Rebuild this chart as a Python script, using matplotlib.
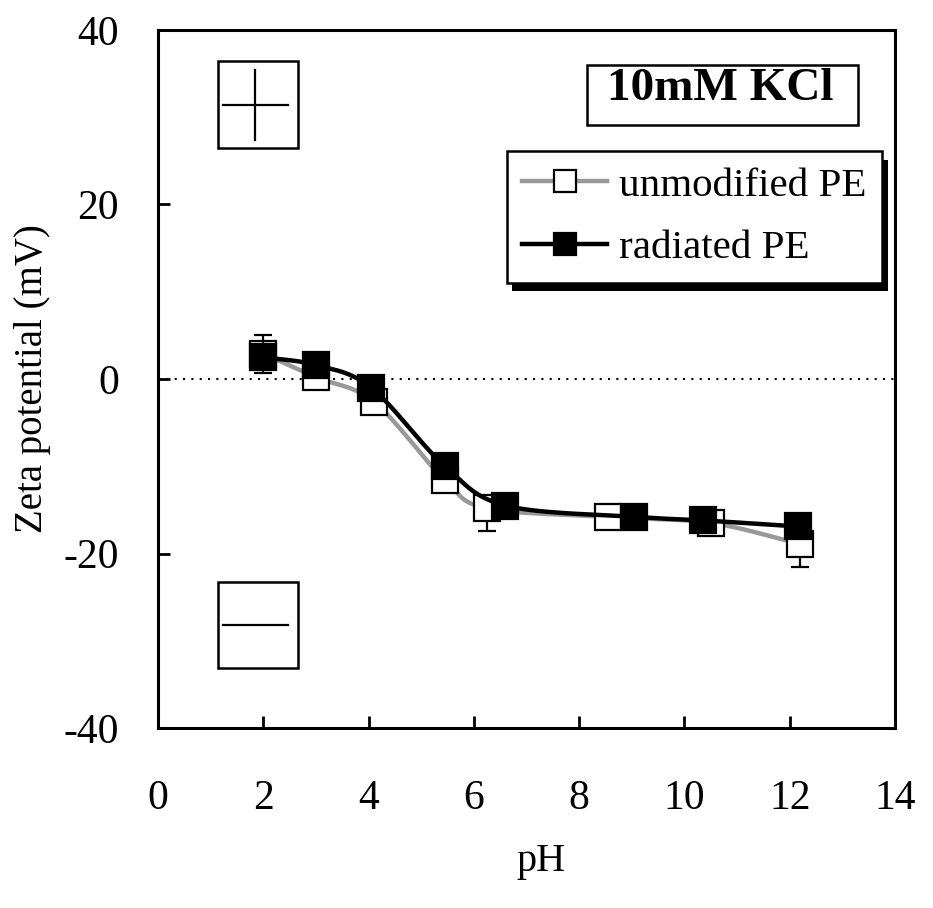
import numpy as np
import matplotlib
matplotlib.use('Agg')
import matplotlib.pyplot as plt
from matplotlib.patches import Rectangle

plt.rcParams['font.family'] = ['Liberation Serif', 'DejaVu Serif']
plt.rcParams['axes.unicode_minus'] = False

# data
ph_unmod = [2.0, 3.0, 4.1, 5.45, 6.25, 8.55, 10.5, 12.2]
zeta_unmod = [2.9, 0.2, -2.6, -11.6, -14.8, -15.8, -16.5, -18.9]
err_unmod_low = [2.2, 0.8, 0.8, 1.0, 2.6, 0.8, 0.8, 2.7]

ph_rad = [2.0, 3.0, 4.05, 5.45, 6.6, 9.05, 10.35, 12.15]
zeta_rad = [2.5, 1.6, -1.0, -10.0, -14.5, -15.8, -16.2, -16.9]
err_rad_up = [2.55, 0.8, 0.8, 0.8, 0.8, 0.8, 0.8, 0.8]

xticks = [0, 2, 4, 6, 8, 10, 12, 14]
yticks = [-40, -20, 0, 20, 40]


def smooth(x, y, n=30):
    # catmull-rom curve through the points (like the "smoothed line" option)
    x = np.asarray(x, float)
    y = np.asarray(y, float)
    px = np.concatenate([[2 * x[0] - x[1]], x, [2 * x[-1] - x[-2]]])
    py = np.concatenate([[2 * y[0] - y[1]], y, [2 * y[-1] - y[-2]]])
    t = np.linspace(0, 1, n)
    xs, ys = [], []
    for i in range(1, len(px) - 2):
        for p, out in ((px, xs), (py, ys)):
            p0, p1, p2, p3 = p[i - 1], p[i], p[i + 1], p[i + 2]
            out.append(0.5 * ((2 * p1) + (-p0 + p2) * t
                              + (2 * p0 - 5 * p1 + 4 * p2 - p3) * t ** 2
                              + (-p0 + 3 * p1 - 3 * p2 + p3) * t ** 3))
    return np.concatenate(xs), np.concatenate(ys)


fig = plt.figure(figsize=(9.33, 9.08), dpi=100)
ax = fig.add_axes([0.1693, 0.1982, 0.7900, 0.7688])

ax.axhline(0, color='black', lw=1.5, dashes=(1, 3), zorder=1)

gray = '#999999'
sx, sy = smooth(ph_unmod, zeta_unmod)
ax.plot(sx, sy, color=gray, lw=3.2, zorder=2)
ax.errorbar(ph_unmod, zeta_unmod, yerr=[err_unmod_low, [0] * len(ph_unmod)],
            fmt='none', ecolor='black', elinewidth=1.6, capsize=6.5,
            capthick=1.6, zorder=3)
ax.plot(ph_unmod, zeta_unmod, 's', color='none', mfc='white', mec='black',
        ms=19, mew=1.6, zorder=4)

sx, sy = smooth(ph_rad, zeta_rad)
ax.plot(sx, sy, color='black', lw=3.2, zorder=5)
ax.errorbar(ph_rad, zeta_rad, yerr=[[0] * len(ph_rad), err_rad_up],
            fmt='none', ecolor='black', elinewidth=1.6, capsize=6.5,
            capthick=1.6, zorder=6)
ax.plot(ph_rad, zeta_rad, 's', color='none', mfc='black', mec='black',
        ms=19, mew=1.6, zorder=7)

ax.set_xlim(0, 14)
ax.set_ylim(-40, 40)
ax.set_xticks(xticks)
ax.set_yticks(yticks)
ax.tick_params(direction='in', length=8.5, width=2, labelsize=30)
ax.tick_params(axis='x', pad=37)
ax.tick_params(axis='y', pad=28)
for s in ax.spines.values():
    s.set_linewidth(2.2)

ax.set_xlabel('pH', fontsize=29)
ax.set_ylabel('Zeta potential (mV)', fontsize=28)
ax.xaxis.set_label_coords(0.52, -0.165)
ax.yaxis.set_label_coords(-0.145, 0.5)

# legend (lines drawn with marker in the middle)
h1, = ax.plot([], [], color=gray, lw=3.2, marker='s', mfc='white', mec='black',
              ms=16, mew=1.6)
h2, = ax.plot([], [], color='black', lw=3.2, marker='s', mfc='black', mec='black',
              ms=16, mew=1.6)
leg = ax.legend([h1, h2], ['unmodified PE', 'radiated PE'], loc='upper right',
                bbox_to_anchor=(0.982, 0.826), fontsize=29.5, fancybox=False,
                edgecolor='black', framealpha=1, handlelength=2.07,
                handletextpad=0.29, borderpad=0.38, labelspacing=0.6,
                borderaxespad=0)
leg.get_frame().set_linewidth(1.8)
leg.set_zorder(20)

fig.canvas.draw()
bb = leg.get_window_extent().transformed(ax.transAxes.inverted())
ax.add_patch(Rectangle((bb.x0 + 0.008, bb.y0 - 0.012), bb.width, bb.height,
                       transform=ax.transAxes, facecolor='black',
                       edgecolor='none', zorder=19))

# title box
ax.add_patch(Rectangle((0.582, 0.864), 0.368, 0.086, transform=ax.transAxes,
                       fc='white', ec='black', lw=1.8, zorder=20))
ax.text(0.7626, 0.8997, '10mM KCl', transform=ax.transAxes, fontsize=34,
        fontweight='bold', ha='center', va='baseline', zorder=21)

# plus / minus boxes
for (y0, y1, sign) in [(0.831, 0.955, '+'), (0.086, 0.209, '-')]:
    ax.add_patch(Rectangle((0.0814, y0), 0.1085, y1 - y0, transform=ax.transAxes,
                           fill=False, ec='black', lw=1.8, zorder=10))
    yc = (y0 + y1) / 2
    ax.plot([0.0882, 0.1764], [yc, yc], color='black', lw=1.6,
            transform=ax.transAxes, zorder=10)
    if sign == '+':
        ax.plot([0.1317, 0.1317], [yc - 0.05, yc + 0.05], color='black',
                lw=1.6, transform=ax.transAxes, zorder=10)

fig.savefig('out.png', dpi=100)
